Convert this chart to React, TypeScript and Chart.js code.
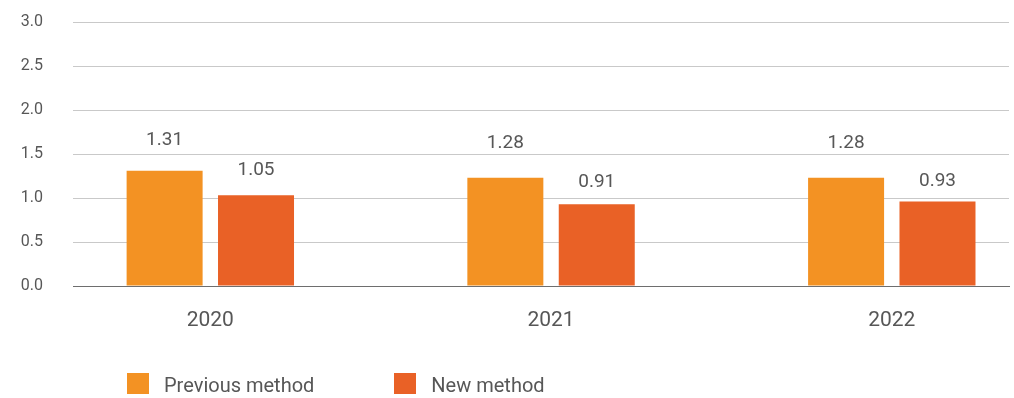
import React, { useEffect, useRef } from "react";
import { Chart, registerables } from "chart.js";

Chart.register(...registerables);

const categories = ["2020", "2021", "2022"];
const seriesNames = ["Previous method", "New method"];
const seriesColors = ["#F39223", "#E96126"];
const previousValues = [1.31, 1.23, 1.23];
const newValues = [1.03, 0.93, 0.96];
const previousLabels = ["1.31", "1.28", "1.28"];
const newLabels = ["1.05", "0.91", "0.93"];
const yMin = 0;
const yMax = 3;
const yStep = 0.5;
const xMin = -0.403;
const xMax = 2.344;

const FONT = "Roboto, 'Noto Sans', Arial, sans-serif";
const TEXT = "#575757";

const valueLabelPlugin = {
  id: "valueLabels",
  afterDatasetsDraw(chart: any) {
    const ctx = chart.ctx;
    const yScale = chart.scales.y;
    const labelSets = [previousLabels, newLabels];
    const offsets = [25.5, 18.5];
    ctx.save();
    ctx.font = `19px ${FONT}`;
    ctx.fillStyle = TEXT;
    ctx.textAlign = "center";
    ctx.textBaseline = "alphabetic";
    chart.data.datasets.forEach((_ds: any, di: number) => {
      const meta = chart.getDatasetMeta(di);
      meta.data.forEach((el: any, i: number) => {
        const txt = labelSets[di][i];
        const y = yScale.getPixelForValue(Number(txt)) - offsets[di];
        ctx.fillText(txt, el.x, y);
      });
    });
    ctx.restore();
  },
};

export default function App() {
  const ref = useRef<HTMLCanvasElement | null>(null);

  useEffect(() => {
    if (!ref.current) return;
    const toPoints = (arr: number[]) => arr.map((v, i) => ({ x: i, y: v }));
    const chart = new Chart(ref.current, {
      type: "bar",
      data: {
        datasets: [
          {
            label: seriesNames[0],
            data: toPoints(previousValues),
            backgroundColor: seriesColors[0],
            categoryPercentage: 0.5365,
            barPercentage: 0.8315,
          },
          {
            label: seriesNames[1],
            data: toPoints(newValues),
            backgroundColor: seriesColors[1],
            categoryPercentage: 0.5365,
            barPercentage: 0.8315,
          },
        ] as any,
      },
      options: {
        animation: false,
        responsive: true,
        maintainAspectRatio: false,
        layout: { padding: { top: 22, left: 20, right: 5, bottom: 65 } },
        plugins: {
          legend: { display: false },
          tooltip: { enabled: false },
        },
        scales: {
          x: {
            type: "linear",
            offset: false,
            min: xMin,
            max: xMax,
            grid: { display: false, drawTicks: false, offset: false },
            border: { display: true, color: "#6e6e6e", width: 1 },
            afterDataLimits: (scale: any) => {
              scale.min = xMin;
              scale.max = xMax;
            },
            afterBuildTicks: (scale: any) => {
              scale.ticks = categories.map((_c, i) => ({ value: i }));
            },
            afterFit: (scale: any) => {
              scale.height = 47;
              scale.paddingLeft = 0;
              scale.paddingRight = 0;
              scale.paddingTop = 0;
              scale.paddingBottom = 0;
            },
            ticks: {
              autoSkip: false,
              maxRotation: 0,
              padding: 22,
              color: TEXT,
              font: { family: FONT, size: 21 },
              callback: (v: any) => categories[Number(v)] ?? "",
            },
          },
          y: {
            min: yMin,
            max: yMax,
            grid: {
              drawTicks: false,
              color: (c: any) => (c.tick && c.tick.value === 0 ? "#6e6e6e" : "#c9c9c9"),
            },
            border: { display: false },
            afterFit: (scale: any) => {
              scale.width = 53;
              scale.paddingLeft = 0;
              scale.paddingRight = 0;
              scale.paddingTop = 0;
              scale.paddingBottom = 0;
            },
            ticks: {
              stepSize: yStep,
              padding: 30,
              color: TEXT,
              font: { family: FONT, size: 16 },
              callback: (v: any) => Number(v).toFixed(1),
            },
          },
        } as any,
      },
      plugins: [valueLabelPlugin],
    });
    return () => chart.destroy();
  }, []);

  return (
    <div style={{ position: "absolute", left: 0, top: 0, width: 1014, height: 398, background: "#fff" }}>
      <canvas ref={ref} />
      <div
        style={{
          position: "absolute",
          left: 127,
          top: 373,
          display: "flex",
          alignItems: "center",
          fontFamily: FONT,
          fontSize: 20,
          color: TEXT,
        }}
      >
        {seriesNames.map((name, i) => (
          <div key={name} style={{ display: "flex", alignItems: "center", marginRight: 80 }}>
            <div style={{ width: 22, height: 21, background: seriesColors[i], marginRight: 15 }} />
            <span style={{ lineHeight: "21px", position: "relative", top: 2 }}>{name}</span>
          </div>
        ))}
      </div>
    </div>
  );
}
